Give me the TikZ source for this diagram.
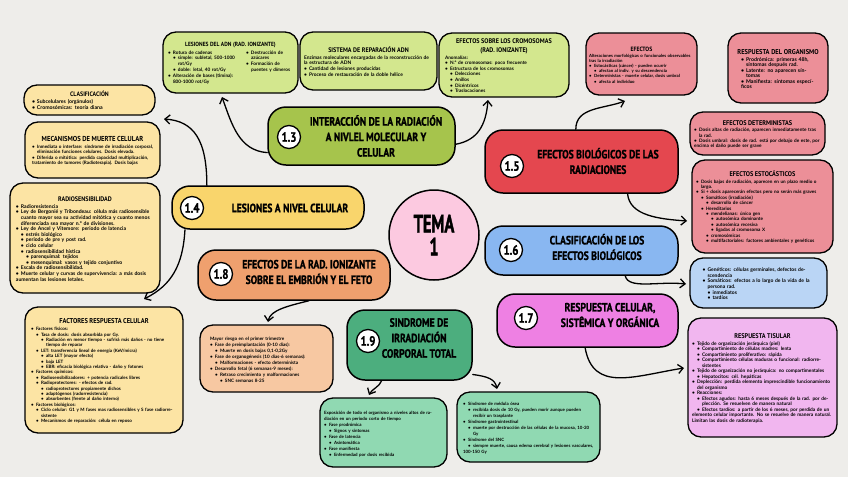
\documentclass[tikz,border=0pt]{standalone}
\usepackage{fontspec}
\setmainfont{Lato}
\newfontfamily\tfont[FakeStretch=0.8,FakeBold=1.2]{PT Sans}
\newfontfamily\hfont[FakeStretch=0.92]{PT Sans}
\newfontfamily\temafont[FakeStretch=0.65,FakeBold=1.5]{PT Sans}
\usetikzlibrary{arrows.meta}
\definecolor{bg}{HTML}{EEEDEA}
\definecolor{gA}{HTML}{A6C44C}
\definecolor{gAl}{HTML}{D3E78E}
\definecolor{yA}{HTML}{F9D56C}
\definecolor{yAl}{HTML}{FCE4A4}
\definecolor{oA}{HTML}{EFA06E}
\definecolor{oAl}{HTML}{F7C8A2}
\definecolor{gB}{HTML}{4CAE7E}
\definecolor{gBl}{HTML}{90D9B2}
\definecolor{rA}{HTML}{E4474F}
\definecolor{rAl}{HTML}{EC8F98}
\definecolor{bA}{HTML}{89B7F1}
\definecolor{bAl}{HTML}{BAD5F5}
\definecolor{mA}{HTML}{EE80E3}
\definecolor{mAl}{HTML}{F1B6EF}
\definecolor{pk}{HTML}{FCC9E0}
\newcommand\fs[2]{\fontsize{#1}{#2}\selectfont}
\newcommand\LI[2]{\par\hangindent=\dimexpr#1pt+5pt\relax\hangafter=1\noindent\hspace*{#1pt}\makebox[5pt][l]{\textbullet}#2}
\newcommand\PL[1]{\par\noindent #1}
\newcommand\HD[2]{\par{\noindent\hfont\bfseries\fontsize{#1}{#1}\selectfont\hbox to\hsize{\hss #2\hss}\par}\vspace{1.4pt}}
\begin{document}
\begin{tikzpicture}[x=1pt,y=-1pt,
  mbox/.style={draw=black, line width=1.5pt, rounded corners=18pt, inner sep=0pt},
  mtext/.style={align=center, inner sep=0pt, font=\tfont\bfseries\fs{12}{15.5}},
  numc/.style={circle, draw=black, fill=white, line width=1.3pt, minimum size=23pt, inner sep=0pt, font=\tfont\bfseries\fs{13.5}{13.5}},
  sbox/.style={draw=black, line width=1.3pt, rounded corners=13pt, inner xsep=6pt, inner ysep=3pt, align=left, font=\bfseries\fs{4.6}{5.5}},
  conn/.style={line width=1.3pt, line cap=round, -{Straight Barb[length=5pt,width=9pt]}}]
\fill[bg] (0,0) rectangle (848,477);
\useasboundingbox (0,0) rectangle (848,477);

% ---------- main nodes ----------
\node[circle, draw=black, line width=1.5pt, fill=pk, minimum size=90pt, inner sep=0pt, align=center, font=\temafont\bfseries\fs{25}{23}] (tema) at (434,235) {TEMA\\1};

\node[mbox, fill=gA, minimum width=187pt, minimum height=58pt] (b13) at (361.5,136) {};
\node[numc] (n13) at (289,137) {1.3};
\node[mtext] (t13) at (376,136) {INTERACCIÓN DE LA RADIACIÓN\\A NIVLEL MOLECULAR Y\\CELULAR};

\node[mbox, fill=yA, minimum width=192pt, minimum height=43pt] (b14) at (268,207.5) {};
\node[numc] (n14) at (192,208) {1.4};
\node[mtext] (t14) at (290,208) {LESIONES A NIVEL CELULAR};

\node[mbox, fill=oA, minimum width=192pt, minimum height=50pt] (b18) at (294,275) {};
\node[numc] (n18) at (221,274) {1.8};
\node[mtext] (t18) at (309,272) {EFECTOS DE LA RAD. IONIZANTE\\SOBRE EL EMBRIÓN Y EL FETO};

\node[mbox, fill=gB, minimum width=125pt, minimum height=70pt] (b19) at (409.5,345) {};
\node[numc] (n19) at (368,341) {1.9};
\node[mtext] (t19) at (419,338) {SINDROME DE\\IRRADIACIÓN\\CORPORAL TOTAL};

\node[mbox, fill=rA, minimum width=193pt, minimum height=63pt] (b15) at (581.5,161.5) {};
\node[numc] (n15) at (512,166) {1.5};
\node[mtext] (t15) at (598,161) {EFECTOS BIOLÓGICOS DE LAS\\RADIACIONES};

\node[mbox, fill=bA, minimum width=193pt, minimum height=49pt] (b16) at (581.5,250.5) {};
\node[numc] (n16) at (511,250) {1.6};
\node[mtext] (t16) at (597,247) {CLASIFICACIÓN DE LOS\\EFECTOS BIOLÓGICOS};

\node[mbox, fill=mA, minimum width=181pt, minimum height=53pt] (b17) at (587.5,320.5) {};
\node[numc] (n17) at (526,318) {1.7};
\node[mtext] (t17) at (610,315) {RESPUESTA CELULAR,\\SISTÊMICA Y ORGÁNICA};

% ---------- yellow sub boxes ----------
\node[sbox, fill=yAl, minimum width=131pt, minimum height=30pt, text width=115pt, font=\bfseries\fs{5.2}{6}] (clas) at (89.5,100)
 {\HD{6.4}{CLASIFICACIÓN}\LI{0}{Subcelulares (orgánulos)}\LI{0}{Cromosómicas: teoría diana}};

\node[sbox, fill=yAl, minimum width=135pt, minimum height=56pt, text width=121pt] (meca) at (92.5,150)
 {\HD{7.2}{MECANISMOS DE MUERTE CELULAR}\LI{0}{Inmediata o interfase: síndrome de irradiación corporal, eliminación funciones celulares. Dosis elevada.}\LI{0}{Diferida o mitótica: perdida capacidad multiplicación, tratamiento de tumores (Radioterapia). Dosis bajas}};

\node[sbox, fill=yAl, minimum width=150pt, minimum height=110pt, text width=138pt, font=\bfseries\fs{5.1}{5.6}] (radio) at (85,238)
 {\HD{6.6}{RADIOSENSIBILIDAD}\LI{0}{Radioresistencia}\LI{0}{Ley de Bergonié y Tribondeau: célula más radiosensible cuanto mayor sea su actividad mitótica y cuanto menos diferenciada sea mayor n.º de divisiones.}\LI{0}{Ley de Ancel y Vitemore: periodo de latencia}\LI{5}{estrés biológico}\LI{5}{periodo de pre y post rad.}\LI{5}{ciclo celular}\LI{5}{radiosensibilidad hística}\LI{10}{parenquimal: tejidos}\LI{10}{mesenquimal: vasos y tejido conjuntivo}\LI{0}{Escala de radiosensibilidad.}\LI{0}{Muerte celular y curvas de supervivencia: a más dosis aumentan las lesiones letales.}};

\node[sbox, fill=yAl, minimum width=158pt, minimum height=126pt, text width=146pt, font=\bfseries\fs{4.5}{5.4}] (fact) at (104,370)
 {\HD{7}{FACTORES RESPUESTA CELULAR}\LI{0}{Factores físicos:}\LI{5}{Tasa de dosis: dosis absorbida por Gy.}\LI{10}{Radiación en menor tiempo - sufrirá más daños - no tiene tiempo de reparar}\LI{5}{LET: transferencia lineal de energía (KeV/micra)}\LI{10}{alta LET (mayor efecto)}\LI{10}{baja LET}\LI{10}{EBR: eficacia biológica relativa - daño y fotones}\LI{0}{Factores químicos:}\LI{5}{Radiosensibilizadores: + potencia radicales libres}\LI{5}{Radioprotectores: - efectos de rad.}\LI{10}{radioprotectores propiamente dichos}\LI{10}{adaptógenos (radorresistencia)}\LI{10}{absorbentes (frente al daño interno)}\LI{0}{Factores biológicos:}\LI{5}{Ciclo celular: G1 y M fases mas radiosensibles y S fase radiorresistente}\LI{5}{Mecanismos de reparación: célula en reposo}};

% ---------- green (1.3) sub boxes ----------
\node[sbox, fill=gAl, minimum width=135pt, minimum height=61pt, text width=125pt, font=\bfseries\fs{4.7}{5.9}, inner xsep=5pt] (lesadn) at (230.5,62.5)
 {\HD{6}{LESIONES DEL ADN (RAD. IONIZANTE)}\noindent\begin{minipage}[t]{74pt}\raggedright\LI{0}{Rotura de cadenas}\LI{5}{simple: subletal, 500-1000 rot/Gy}\LI{5}{doble: letal, 40 rot/Gy}\LI{0}{Alteración de bases (timina): 800-1000 rot/Gy}\end{minipage}\hfill\begin{minipage}[t]{47pt}\raggedright\LI{0}{Destrucción de azúcares}\LI{0}{Formación de puentes y dímeros}\end{minipage}};

\node[sbox, fill=gAl, minimum width=137pt, minimum height=58pt, text width=129pt, inner xsep=4pt, font=\bfseries\fs{4.9}{5.6}] (sisrep) at (368.5,61)
 {\HD{6.6}{SISTEMA DE REPARACIÓN ADN}\PL{Enzimas moleculares encargadas de la reconstrucción de la estructura de ADN}\LI{0}{Cantidad de lesiones producidas}\LI{0}{Proceso de restauración de la doble hélice}};

\node[sbox, fill=gAl, minimum width=128pt, minimum height=64pt, text width=118pt, font=\bfseries\fs{4.7}{5.6}] (cromo) at (504,65)
 {\HD{6.7}{EFECTOS SOBRE LOS CROMOSOMAS}\HD{6.7}{(RAD. IONIZANTE)}\PL{Anomalías:}\LI{0}{N.º de cromosomas: poco frecuente}\LI{0}{Estructura de los cromosomas}\LI{5}{Delecciones}\LI{5}{Anillos}\LI{5}{Dicéntricos}\LI{5}{Traslocaciones}};

% ---------- red (1.5) sub boxes ----------
\node[sbox, fill=rAl, minimum width=111pt, minimum height=62pt, text width=105pt, inner xsep=3pt, font=\bfseries\fs{4.3}{5.1}] (efec) at (641.5,64)
 {\HD{6.2}{EFECTOS}\PL{Alteraciones morfológicas o funcionales observables tras la irradiación}\LI{0}{Estocásticas (cáncer) - pueden ocurrir}\LI{5}{afectan al indiv. y su descendencia}\LI{0}{Deterministas - muerte celular, dosis umbral}\LI{5}{afecta al individuo}};

\node[sbox, fill=rAl, minimum width=100pt, minimum height=70pt, text width=74pt, font=\bfseries\fs{5.2}{5.5}] (resorg) at (778,68)
 {\HD{7}{RESPUESTA DEL ORGANISMO}\LI{0}{Prodrómica: primeras 48h, síntomas después rad.}\LI{0}{Latente: no aparecen síntomas}\LI{0}{Manifiesta: síntomas específicos}};

\node[sbox, fill=rAl, minimum width=135pt, minimum height=43pt, text width=127pt, inner xsep=4pt, font=\bfseries\fs{4.7}{5.3}] (deter) at (757.5,133.5)
 {\HD{6.8}{EFECTOS DETERMINISTAS}\LI{0}{Dosis altas de radiación, aparecen inmediatamente tras la rad.}\LI{0}{Dosis umbral: dosis de rad. está por debajo de este, por encima el daño puede ser grave}};

\node[sbox, fill=rAl, minimum width=141pt, minimum height=93pt, text width=133pt, inner xsep=4pt, font=\bfseries\fs{4.6}{5.4}] (estoc) at (762.5,206.5)
 {\HD{6.8}{EFECTOS ESTOCÁSTICOS}\LI{0}{Dosis bajas de radiación, aparecen en un plazo medio o largo.}\LI{0}{Si + dosis aparecerán efectos pero no serán más graves}\LI{5}{Somáticos (irradiación)}\LI{10}{desarrollo de cáncer}\LI{5}{Hereditarios}\LI{10}{mendelianas: único gen}\LI{15}{autosómica dominante}\LI{15}{autosómica recesiva}\LI{15}{ligadas al cromosoma X}\LI{10}{cromosómicas}\LI{10}{multifactoriales: factores ambientales y genéticos}};

% ---------- blue (1.6) ----------
\node[sbox, fill=bAl, minimum width=137pt, minimum height=50pt, text width=112pt, font=\bfseries\fs{5}{5.6}] (genet) at (758.5,283)
 {\LI{0}{Genéticos: células germinales, defectos descendencia}\LI{0}{Somáticos: efectos a lo largo de la vida de la persona rad.}\LI{5}{inmediatos}\LI{5}{tardíos}};

% ---------- magenta (1.7) ----------
\node[sbox, fill=mAl, minimum width=149pt, minimum height=119pt, text width=141pt, inner xsep=4pt, font=\bfseries\fs{4.8}{5.5}] (tisu) at (762.5,377.5)
 {\HD{6.8}{RESPUESTA TISULAR}\LI{0}{Tejido de organización jerárquica (piel)}\LI{5}{Compartimiento de células madres: lenta}\LI{5}{Compartimiento proliferativo: rápida}\LI{5}{Compartimiento células maduras o funcional: radiorresistentes}\LI{0}{Tejido de organización no jerárquica: no compartimentales}\LI{5}{Hepatocitos: cél. hepáticas}\LI{0}{Deplección: perdida elemento imprescindible funcionamiento del organismo}\LI{0}{Reacciones:}\LI{5}{Efectos agudos: hasta 6 meses después de la rad. por deplección. Se resuelven de manera natural}\LI{5}{Efectos tardíos: a partir de los 6 meses, por perdida de un elemento celular importante. No se resuelve de manera natural. Limitan las dosis de radioterapia.}};

% ---------- orange (1.8) ----------
\node[sbox, fill=oAl, minimum width=133pt, minimum height=67pt, text width=113pt, font=\bfseries\fs{4.6}{6.1}] (mayor) at (266.5,358.5)
 {\PL{Mayor riesgo en el primer trimestre}\LI{0}{Fase de preimplantación (0-10 días):}\LI{5}{Muerte en dosis bajas 0,1-0,2Gy}\LI{0}{Fase de organogénesis (10 días-6 semanas):}\LI{5}{Malformaciones - efecto determinista}\LI{0}{Desarrollo fetal (6 semanas-9 meses):}\LI{5}{Retraso crecimiento y malformaciones}\LI{10}{SNC semanas 8-25}};

% ---------- green (1.9) ----------
\node[sbox, fill=gBl, minimum width=127pt, minimum height=69pt, text width=119pt, inner xsep=4pt, font=\bfseries\fs{4.4}{6}] (expo) at (383.5,432.5)
 {\PL{Exposición de todo el organismo a niveles altos de radiación en un período corto de tiempo}\LI{0}{Fase prodrómica}\LI{5}{Signos y síntomas}\LI{0}{Fase de latencia}\LI{5}{Asintomática}\LI{0}{Fase manifiesta}\LI{5}{Enfermedad por dosis recibida}};

\node[sbox, fill=gBl, minimum width=143pt, minimum height=70pt, text width=131pt, font=\bfseries\fs{4.4}{6}] (sindr) at (528.5,427)
 {\LI{0}{Síndrome de médula ósea}\LI{5}{recibida dosis de 10 Gy, pueden morir aunque pueden recibir un trasplante}\LI{0}{Síndrome gastrointestinal}\LI{5}{muerte por destrucción de las células de la mucosa, 10-20 Gy}\LI{0}{Síndrome del SNC}\LI{5}{siempre muerte, causa edema cerebral y lesiones vasculares, 100-150 Gy}};

% ---------- connectors ----------
\coordinate (t1) at (222,97);
\coordinate (t2) at (488,100);
\coordinate (t3) at (625,101);
\coordinate (t4) at (687,221);
\coordinate (t5) at (686,284);
\coordinate (t6) at (684,368);
\coordinate (t7) at (268,322);
\coordinate (t8) at (369,395);
\coordinate (t9) at (497,389);
\coordinate (t10) at (164,119);
\coordinate (t11) at (144,299);

\draw[conn] (b13.190) .. controls +(-28,-2) and +(10,28) .. (t1);
\draw[conn] (b13.-5) .. controls +(22,-4) and +(-2,25) .. (t2);
\draw[conn] (b15.100) .. controls +(0,-22) and +(-22,8) .. (t3);
\draw[conn] (b15.-35) .. controls +(2,22) and +(-28,-2) .. (t4);
\draw[conn] (b16.-30) .. controls +(3,14) and +(-28,-3) .. (t5);
\draw[conn] (b17.-95) .. controls +(8,45) and +(-50,8) .. (t6);
\draw[conn] (b18.-60) .. controls +(-20,5) and +(2,-12) .. (t7);
\draw[conn] (b19.-128) .. controls +(-2,6) and +(3,-6) .. (t8);
\draw[conn] (b19.-25) .. controls +(15,2) and +(-2,-10) .. (t9);
\draw[conn] (b14.160) .. controls +(0,-45) and +(30,2) .. (t10);
\draw[conn] (b14.-165) .. controls +(-2,35) and +(28,-14) .. (t11);
\end{tikzpicture}
\end{document}
